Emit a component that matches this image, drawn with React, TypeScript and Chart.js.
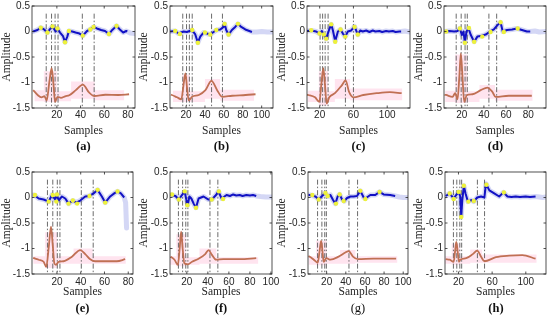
import React, { useEffect, useRef } from "react";
import { Chart, registerables } from "chart.js";
Chart.register(...registerables);

type P = [number, number];
type Seg = [number, number, number, number];

const yTicks = [-1.5, -1, -0.5, 0, 0.5];
const yTickLabels = ["-1.5", "-1", "-0.5", "0", "0.5"];
const captions = ["(a)", "(b)", "(c)", "(d)", "(e)", "(f)", "(g)", "(h)"];
const xTitle = "Samples";
const yTitle = "Amplitude";

// ---------- (a)
const xRangeA = [-1, 86];
const xTicksA = [20, 40, 60, 80];
const blueA: P[] = [[0,0],[3.6,0.03],[6.4,0.075],[9.2,0.04],[12,-0.02],[14,0.04],[16.3,0.1],[19,0],[20.5,0.06],[22.7,-0.02],[25.2,-0.09],[26.9,-0.21],[28.8,-0.1],[30.2,0.01],[33,0],[35.8,-0.02],[39.1,-0.04],[41.9,-0.08],[45.5,0.01],[48.2,0.04],[51,0.09],[53.8,0.06],[57.4,0.03],[60.7,0.01],[64,-0.05],[66.8,0.03],[70.4,0.11],[73.2,0.04],[76,-0.02],[78.6,0.01],[79.5,0]];
const tailA: P[] = [[82,-0.03],[86,-0.04]];
const yellowA: P[] = [[6.4,0.075],[12,-0.02],[16.3,0.1],[20.5,0.06],[26.9,-0.21],[30.2,0.01],[41.9,-0.08],[48.2,0.04],[51,0.09],[64,-0.05],[70.4,0.11]];
const ecgA: P[] = [[0,-1.15],[4,-1.25],[7,-1.29],[9.5,-1.27],[11.4,-1.35],[13.6,-1.0],[15.6,-0.72],[17.2,-1.05],[18.5,-1.38],[20.6,-1.28],[23.5,-1.3],[27,-1.27],[30.5,-1.25],[36,-1.15],[42,-1.04],[47,-1.19],[51.7,-1.265],[61,-1.24],[72,-1.245],[81,-1.23]];
const markersA = [11, 15.5, 18.5, 21, 41.5, 51.5];
const bandA: Seg[] = [[1,9,-1.37,-1.15],[9,20,-1.38,-0.78],[20,32,-1.37,-1.17],[32,52,-1.32,-0.98],[52,77,-1.35,-1.15]];

// ---------- (b)
const xRangeB = [3, 112];
const xTicksB = [20, 40, 60, 80, 100];
const blueB: P[] = [[3.2,0],[8.5,0.01],[12,-0.04],[17.3,0],[20.8,-0.01],[23.6,0.01],[26.1,0.03],[29.6,-0.05],[32.5,-0.22],[35,-0.1],[38.5,-0.02],[42,-0.04],[45.6,-0.06],[49.1,-0.01],[52.6,0.03],[56.2,0.04],[59.7,0.09],[60.8,0.15],[62.5,0.03],[65,-0.06],[68.5,0.03],[72,0.09],[74.9,0.15],[78.4,0.09],[82.7,0.04],[86.9,0.01],[89.7,-0.01]];
const tailB: P[] = [[95,-0.01],[100,0],[106,-0.01],[112,-0.01]];
const yellowB: P[] = [[8.5,0.01],[13.5,-0.05],[26.5,0.03],[32.5,-0.22],[40,-0.02],[45.6,-0.06],[52,0.03],[60.8,0.15],[65,-0.06],[74.9,0.15]];
const ecgB: P[] = [[4,-1.24],[5,-1.245],[10.4,-1.29],[15,-1.33],[17.3,-1.05],[19.3,-0.82],[21,-1.1],[22.8,-1.35],[26.4,-1.28],[33.5,-1.245],[40.5,-1.15],[46.9,-0.97],[52.9,-1.15],[58.2,-1.28],[68.8,-1.26],[83,-1.245],[93.5,-1.23]];
const markersB = [16.5, 20.5, 23.5, 26.5, 47, 58.5];
const bandB: Seg[] = [[6,16,-1.38,-1.16],[16,24,-1.38,-0.85],[24,40,-1.38,-1.17],[40,56,-1.32,-0.93],[56,92,-1.36,-1.14]];

// ---------- (c)
const xRangeC = [5, 127];
const xTicksC = [20, 60, 100];
const blueC: P[] = [[5,0.01],[10,0.02],[15.9,0],[19.8,-0.04],[22.6,0.01],[25,-0.07],[27.7,-0.14],[30.9,0.02],[33.7,0.14],[35.7,0.02],[38.4,-0.19],[41.6,0],[44.7,0.04],[47.5,-0.04],[50.3,-0.1],[53.4,0],[57.4,0.02],[61.3,0.1],[65.2,-0.06],[68,0.02],[71,0],[75.1,0.02],[79,-0.01],[82.9,0.02],[86,0],[90.8,0.01],[94,-0.01],[98.7,0.01],[102,0],[106.6,0.01],[110,-0.01],[114.5,0],[116.5,0]];
const tailC: P[] = [[121,0.01],[127,-0.01]];
const yellowC: P[] = [[10,0.025],[19.8,-0.04],[25,-0.06],[27.7,-0.14],[33.7,0.14],[38.4,-0.2],[44.7,0.04],[50.3,-0.1],[61.3,0.09],[65.2,-0.06]];
const ecgC: P[] = [[5,-1.24],[6.6,-1.245],[14.5,-1.29],[19.6,-1.38],[22.2,-1.0],[24.3,-0.72],[26.3,-1.05],[28.3,-1.41],[31.4,-1.29],[38.1,-1.21],[46,-1.06],[50.8,-0.96],[54.7,-1.18],[59.9,-1.29],[71.7,-1.245],[87.5,-1.21],[103.3,-1.19],[117.1,-1.21]];
const markersC = [20.5, 23.5, 26.5, 30, 50.5, 60];
const bandC: Seg[] = [[6,19,-1.38,-1.16],[19,30,-1.45,-0.78],[30,38,-1.38,-1.17],[38,56,-1.32,-0.93],[56,118,-1.35,-1.12]];

// ---------- (d)
const xRangeD = [4, 96];
const xTicksD = [20, 40, 60, 80];
const blueD: P[] = [[4.3,0],[8.8,0.01],[13.2,0],[16.2,0.01],[18.3,0.06],[20.1,-0.07],[21.6,0],[22.8,-0.22],[24.3,0],[26.1,0.06],[28.2,-0.07],[31.2,-0.2],[34.1,-0.1],[37.1,-0.09],[41.6,-0.06],[45.5,0],[49,0.04],[52,0.12],[55,0.18],[57,0],[60.9,0.03],[65.4,0.04],[69.8,0.06],[74.3,0.03],[78.8,0],[81.8,0]];
const tailD: P[] = [[86,0.01],[90,-0.01],[96,0]];
const yellowD: P[] = [[6,0],[18.3,0.06],[22.8,-0.22],[26.5,0.07],[31.2,-0.2],[38.5,-0.1],[46,-0.01],[55,0.18],[58,-0.01],[70.5,0.06]];
const ecgD: P[] = [[4.5,-1.24],[5.8,-1.245],[11.7,-1.28],[14.1,-1.21],[16.2,-1.33],[17.8,-0.9],[19.2,-0.43],[20.7,-0.9],[22.2,-1.38],[24.6,-1.245],[29.7,-1.23],[37.1,-1.15],[43.1,-1.1],[47.5,-1.18],[50.5,-1.28],[62.4,-1.26],[74.3,-1.26],[83.2,-1.26]];
const markersD = [15, 19.5, 23, 25, 44.5, 51.5];
const bandD: Seg[] = [[5,14,-1.38,-1.16],[14,25,-1.4,-0.45],[25,36,-1.38,-1.17],[36,50,-1.32,-1.05],[50,84,-1.36,-1.14]];

// ---------- (e)
const xRangeE = [-1, 84];
const xTicksE = [20, 40, 60, 80];
const blueE: P[] = [[0,0.05],[0.8,0.05],[4.6,-0.02],[8.8,-0.04],[13,-0.08],[15.8,0.05],[18.6,-0.04],[20,0.06],[21.4,-0.06],[24.2,0.02],[27,-0.02],[29.8,-0.12],[33.4,-0.06],[36.2,-0.1],[39.6,-0.06],[43.8,0.02],[47.4,0.03],[50.8,0.08],[54.2,0.15],[57.8,0.02],[60.6,-0.1],[64.8,0.02],[68.2,0.08],[71,0.12],[73.8,0.08],[76.6,0]];
const tailE: P[] = [[77.8,-0.1],[78.6,-0.6]];
const yellowE: P[] = [[1.5,0.05],[13,-0.08],[16.5,0.05],[20,0.06],[19.5,-0.08],[29.8,-0.12],[33.4,-0.06],[37,-0.12],[47.4,0.03],[54.2,0.15],[60.6,-0.1],[71,0.12]];
const ecgE: P[] = [[0,-1.18],[0.8,-1.19],[4.6,-1.22],[8.8,-1.26],[11,-1.36],[13.2,-0.95],[15,-0.57],[16.5,-0.95],[17.8,-1.29],[19.2,-1.32],[21.4,-1.26],[25.6,-1.25],[32.6,-1.16],[39.6,-1.03],[43.8,-1.11],[48,-1.21],[52.2,-1.25],[62,-1.25],[70.4,-1.25],[77.4,-1.21]];
const markersE = [12, 16.5, 20.3, 22.5, 40.5, 50.5];
const bandE: Seg[] = [[0,10,-1.3,-1.15],[10,20,-1.38,-0.68],[20,34,-1.3,-1.15],[34,50,-1.3,-1.0],[50,78,-1.3,-1.15]];

// ---------- (f)
const xRangeF = [4, 101];
const xTicksF = [20, 40, 60, 80, 100];
const blueF: P[] = [[4.5,0.05],[9.2,0.03],[12.4,-0.04],[15.5,0.05],[18,0.11],[19.6,-0.05],[20.9,-0.15],[22.4,0.02],[24.3,-0.02],[26.5,-0.12],[28.7,-0.2],[31.2,-0.02],[35.9,0.02],[40.6,-0.04],[43.7,-0.04],[47.8,0.05],[50,0.12],[53.1,-0.02],[57.8,0.05],[61,0.03],[64.1,0.06],[67,0.04],[70.3,0.05],[73,0.03],[76.6,0.05],[80,0.04],[82.9,0.05],[86,0.03]];
const tailF: P[] = [[90,0.02],[95,0.01],[101,0.01]];
const yellowF: P[] = [[6,0.06],[12.4,-0.04],[18,0.12],[20.5,-0.15],[28.7,-0.2],[43.7,-0.04],[50.5,0.12],[54.5,-0.03]];
const ecgF: P[] = [[4.5,-1.16],[8.3,-1.22],[11.5,-1.32],[13.2,-1.0],[14.6,-0.67],[16,-1.0],[17.7,-1.29],[20.9,-1.31],[25,-1.26],[31.2,-1.2],[37.5,-1.11],[40.6,-1.03],[43.7,-1.12],[47.8,-1.22],[54.7,-1.21],[70.3,-1.21],[86,-1.19]];
const markersF = [12, 16, 19, 21, 42, 49.5];
const bandF: Seg[] = [[4,10,-1.32,-1.15],[10,19,-1.35,-0.72],[19,32,-1.32,-1.17],[32,48,-1.3,-1.0],[48,88,-1.3,-1.17]];

// ---------- (g)
const xRangeG = [0.5, 105];
const xTicksG = [20, 40, 60, 80, 100];
const blueG: P[] = [[1,0.05],[2.4,0.05],[8.3,0.02],[11.7,-0.04],[15.2,0.03],[18.7,0.09],[21.1,0.02],[23.9,0.05],[26.7,-0.05],[29.1,-0.12],[31.5,0.02],[33.6,0.06],[36.1,-0.04],[38.5,-0.07],[41.3,-0.01],[44.8,0.02],[48.2,0.02],[51.7,0.03],[55.2,0.13],[58.7,0],[60.4,-0.02],[65.6,0.05],[70.8,0.05],[75.3,0.11],[79.5,0.06],[86.4,0.05],[91.6,0.03]];
const tailG: P[] = [[96,0.01],[100,0],[105,0]];
const yellowG: P[] = [[5,0.05],[11.7,-0.04],[18.7,0.09],[21.1,0.03],[29.8,-0.12],[33.6,0.06],[37.8,-0.07],[55.2,0.13],[60.4,-0.03],[75.3,0.11]];
const ecgG: P[] = [[1,-1.15],[2.4,-1.16],[6.6,-1.22],[10.7,-1.28],[12.6,-1.05],[14.2,-0.85],[15.6,-1.05],[16.9,-1.26],[19.7,-1.19],[23.9,-1.22],[32.5,-1.16],[39.5,-1.08],[43,-1.05],[47.5,-1.16],[52.7,-1.21],[69,-1.2],[92.6,-1.2]];
const markersG = [10.5, 15, 18, 19.7, 43.3, 52.3];
const bandG: Seg[] = [[1,9,-1.32,-1.15],[9,20,-1.33,-0.85],[20,34,-1.3,-1.15],[34,50,-1.3,-1.03],[50,94,-1.28,-1.15]];

// ---------- (h)
const xRangeH = [4, 124];
const xTicksH = [20, 60, 100];
const blueH: P[] = [[4.9,0.03],[9.6,0.08],[14.3,-0.02],[17.4,0.05],[20.2,0.11],[22.1,0.02],[23.3,-0.36],[24.5,-0.06],[26.4,0.23],[28.4,0.08],[31.2,-0.08],[35.1,-0.05],[38.2,-0.08],[42.2,0],[46.9,0.02],[50.8,0],[52.7,0.27],[56.7,0.14],[62.5,0.08],[68.4,0.02],[73.5,0.1],[78.2,0.02],[83,0.01],[88,0.02],[93,0.01],[99.8,0.02],[105,0.01],[111.6,0.02]];
const tailH: P[] = [[116,0.01],[120,0],[124,0.01]];
const yellowH: P[] = [[9.6,0.08],[14.3,-0.03],[20.2,0.11],[23.3,-0.38],[26.4,0.23],[31.8,-0.08],[38.2,-0.07],[53.2,0.25],[74,0.1]];
const ecgH: P[] = [[4.9,-1.21],[9.6,-1.22],[14.3,-1.26],[16,-1.05],[17.4,-0.87],[19,-1.05],[20.6,-1.26],[22.1,-1.22],[29.2,-1.19],[37,-1.11],[42.2,-1.04],[46.9,-1.16],[50.8,-1.25],[64.5,-1.17],[80.2,-1.14],[95.9,-1.13],[111.6,-1.2]];
const markersH = [14, 18, 21.6, 23.8, 42.5, 51];
const bandH: Seg[] = [[4,12,-1.3,-1.15],[12,22,-1.32,-0.9],[22,34,-1.3,-1.15],[34,48,-1.28,-1.02],[48,113,-1.28,-1.12]];

// ---------- layout (pixels)
const colLeft = [0, 137, 275, 412];
const colWidth = [145, 145, 145, 138];
const rows = [
  { top: 0, height: 160, plotTop: 6, plotBottom: 108, tickPad: 1, titleCenter: 130.5, captionCenter: 146 },
  { top: 160, height: 161, plotTop: 172, plotBottom: 274, tickPad: 2, titleCenter: 292, captionCenter: 308 },
];
const plotX: [number, number][] = [[32, 135], [170, 273], [307, 410], [444, 547], [32, 133], [170, 272], [308, 408], [445, 547]];

interface PanelDef {
  idx: number;
  xRange: number[];
  xTicks: number[];
  blue: P[];
  tail: P[];
  yellow: P[];
  ecg: P[];
  markers: number[];
  band: Seg[];
}

const panels: PanelDef[] = [
  { idx: 0, xRange: xRangeA, xTicks: xTicksA, blue: blueA, tail: tailA, yellow: yellowA, ecg: ecgA, markers: markersA, band: bandA },
  { idx: 1, xRange: xRangeB, xTicks: xTicksB, blue: blueB, tail: tailB, yellow: yellowB, ecg: ecgB, markers: markersB, band: bandB },
  { idx: 2, xRange: xRangeC, xTicks: xTicksC, blue: blueC, tail: tailC, yellow: yellowC, ecg: ecgC, markers: markersC, band: bandC },
  { idx: 3, xRange: xRangeD, xTicks: xTicksD, blue: blueD, tail: tailD, yellow: yellowD, ecg: ecgD, markers: markersD, band: bandD },
  { idx: 4, xRange: xRangeE, xTicks: xTicksE, blue: blueE, tail: tailE, yellow: yellowE, ecg: ecgE, markers: markersE, band: bandE },
  { idx: 5, xRange: xRangeF, xTicks: xTicksF, blue: blueF, tail: tailF, yellow: yellowF, ecg: ecgF, markers: markersF, band: bandF },
  { idx: 6, xRange: xRangeG, xTicks: xTicksG, blue: blueG, tail: tailG, yellow: yellowG, ecg: ecgG, markers: markersG, band: bandG },
  { idx: 7, xRange: xRangeH, xTicks: xTicksH, blue: blueH, tail: tailH, yellow: yellowH, ecg: ecgH, markers: markersH, band: bandH },
];

const TEXT = "#262626";
const SANS = "'Liberation Sans', Arial, sans-serif";
const SERIF = "'Liberation Serif', 'Times New Roman', serif";
const TITLE_SIZE = 11.5;

const boxPlugin = {
  id: "matlabBox",
  afterDatasetsDraw(chart: any) {
    const { ctx, chartArea } = chart;
    const { left, top, right, bottom } = chartArea;
    ctx.save();
    ctx.strokeStyle = TEXT;
    ctx.lineWidth = 0.8;
    ctx.strokeRect(left, top, right - left, bottom - top);
    const xs = chart.scales.x;
    const ys = chart.scales.y;
    ctx.beginPath();
    xs.ticks.forEach((t: any) => {
      const px = xs.getPixelForValue(t.value);
      ctx.moveTo(px, bottom);
      ctx.lineTo(px, bottom - 2.5);
      ctx.moveTo(px, top);
      ctx.lineTo(px, top + 2.5);
    });
    ys.ticks.forEach((t: any) => {
      const py = ys.getPixelForValue(t.value);
      ctx.moveTo(left, py);
      ctx.lineTo(left + 2.5, py);
      ctx.moveTo(right, py);
      ctx.lineTo(right - 2.5, py);
    });
    ctx.stroke();
    ctx.restore();
  },
};

function Panel({ def }: { def: PanelDef }) {
  const ref = useRef<HTMLCanvasElement>(null);
  const col = def.idx % 4;
  const row = rows[Math.floor(def.idx / 4)];
  const left = colLeft[col];
  const width = colWidth[col];
  const [pl, pr] = plotX[def.idx];
  const xAxisH = row.titleCenter + (TITLE_SIZE * 1.2) / 2 - row.plotBottom;
  const padBottom = row.height - (row.plotBottom - row.top) - xAxisH;

  useEffect(() => {
    if (!ref.current) return;
    const toXY = (arr: P[]) => arr.map(([x, y]) => ({ x, y }));
    const upper: { x: number; y: number }[] = [];
    const lower: { x: number; y: number }[] = [];
    def.band.forEach(([x0, x1, lo, hi]) => {
      upper.push({ x: x0, y: hi }, { x: x1, y: hi });
      lower.push({ x: x0, y: lo }, { x: x1, y: lo });
    });
    const datasets: any[] = [
      { data: upper, borderWidth: 0, pointRadius: 0, fill: "+1", backgroundColor: "rgba(255,185,212,0.38)", borderColor: "rgba(0,0,0,0)", order: 10 },
      { data: lower, borderWidth: 0, pointRadius: 0, fill: false, borderColor: "rgba(0,0,0,0)", order: 11 },
      {
        data: toXY([...def.blue, ...def.tail]),
        borderColor: "rgba(170,175,235,0.5)",
        borderWidth: 5,
        pointRadius: 0,
        borderCapStyle: "round",
        borderJoinStyle: "round",
        order: 8,
      },
      ...def.markers.map((m) => ({
        data: [{ x: m, y: 0.35 }, { x: m, y: -1.5 }],
        borderColor: "#5a5a5a",
        borderWidth: 0.9,
        borderDash: [5, 2, 1.5, 2],
        pointRadius: 0,
        order: 5,
      })),
      {
        data: toXY(def.ecg),
        borderColor: "rgb(192,112,84)",
        borderWidth: 1.8,
        pointRadius: 0,
        cubicInterpolationMode: "monotone",
        order: 3,
      },
      {
        data: toXY(def.blue),
        borderColor: "#1212c4",
        borderWidth: 2,
        pointRadius: 0,
        borderJoinStyle: "round",
        order: 2,
      },
      {
        type: "scatter",
        data: toXY(def.yellow),
        pointRadius: 2.2,
        pointBackgroundColor: "#eef23a",
        pointBorderWidth: 0,
        showLine: false,
        order: 1,
      },
    ];
    const chart = new Chart(ref.current, {
      type: "line",
      data: { datasets },
      plugins: [boxPlugin],
      options: {
        animation: false,
        responsive: false,
        devicePixelRatio: 1,
        events: [],
        layout: {
          padding: {
            left: 0,
            top: row.plotTop - row.top,
            right: left + width - pr,
            bottom: padBottom,
          },
        },
        plugins: { legend: { display: false }, tooltip: { enabled: false } },
        scales: {
          x: {
            type: "linear",
            min: def.xRange[0],
            max: def.xRange[1],
            grid: { display: false, drawTicks: false },
            border: { display: false },
            ticks: {
              autoSkip: false,
              maxRotation: 0,
              padding: row.tickPad,
              color: TEXT,
              font: { family: SANS, size: 10 },
              callback: (v: any) => String(v),
            },
            afterBuildTicks: (s: any) => {
              s.ticks = def.xTicks.map((v) => ({ value: v }));
            },
            afterFit: (s: any) => {
              s.height = xAxisH;
              s.paddingLeft = 0;
              s.paddingRight = 0;
            },
            title: { display: true, text: xTitle, color: TEXT, font: { family: SERIF, size: TITLE_SIZE }, padding: 0 },
          },
          y: {
            type: "linear",
            min: -1.5,
            max: 0.5,
            grid: { display: false, drawTicks: false },
            border: { display: false },
            ticks: {
              autoSkip: false,
              padding: 2,
              color: TEXT,
              font: { family: SANS, size: 10 },
              callback: (_v: any, i: number) => yTickLabels[i],
            },
            afterBuildTicks: (s: any) => {
              s.ticks = yTicks.map((v) => ({ value: v }));
            },
            afterFit: (s: any) => {
              s.width = pl - left;
              s.paddingTop = 0;
              s.paddingBottom = 0;
            },
            title: { display: true, text: yTitle, color: TEXT, font: { family: SERIF, size: TITLE_SIZE }, padding: { top: 0.5, bottom: 0 } },
          },
        },
      } as any,
    });
    return () => chart.destroy();
  }, []);

  return (
    <>
      <canvas
        ref={ref}
        width={width}
        height={row.height}
        style={{ position: "absolute", left, top: row.top, width, height: row.height }}
      />
      <div
        style={{
          position: "absolute",
          left: pl,
          width: pr - pl,
          top: row.captionCenter - 8,
          height: 16,
          lineHeight: "16px",
          textAlign: "center",
          fontFamily: SERIF,
          fontSize: 12.5,
          fontWeight: def.idx === 6 ? 400 : 700,
          color: "#111",
        }}
      >
        {captions[def.idx]}
      </div>
    </>
  );
}

export default function App() {
  return (
    <div style={{ position: "absolute", left: 0, top: 0, width: 550, height: 321, background: "#fff", overflow: "hidden" }}>
      {panels.map((p) => (
        <Panel key={p.idx} def={p} />
      ))}
    </div>
  );
}
